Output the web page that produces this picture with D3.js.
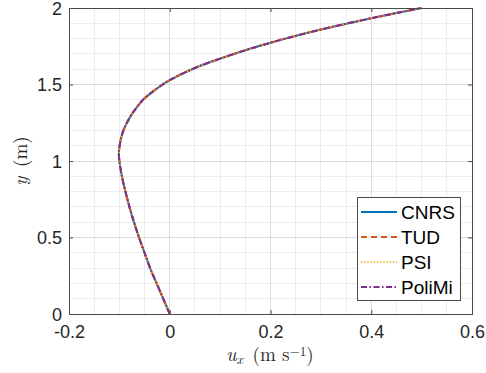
<!DOCTYPE html>
<html><head><meta charset="utf-8">
<script src="https://cdn.jsdelivr.net/npm/d3@7"></script>
<style>
html,body{margin:0;padding:0;background:#fff;}
svg{display:block;}
</style></head>
<body><svg id="c" width="486" height="373"></svg>
<script>
// Data
const yVals   = [0, 0.1, 0.2, 0.3, 0.4, 0.5, 0.6, 0.7, 0.8, 0.9, 1.0, 1.05, 1.1, 1.15, 1.2, 1.25, 1.3, 1.35, 1.4, 1.45, 1.5, 1.529, 1.608, 1.669, 1.724, 1.773, 1.818, 1.859, 1.897, 1.933, 1.967, 2.0];
const uCNRS   = [0, -0.013, -0.026, -0.039, -0.050, -0.061, -0.071, -0.080, -0.088, -0.095, -0.100, -0.101, -0.0995, -0.0965, -0.092, -0.085, -0.0765, -0.0655, -0.053, -0.035, -0.014, 0.0, 0.05, 0.10, 0.15, 0.20, 0.25, 0.30, 0.35, 0.40, 0.45, 0.50];
const uTUD    = uCNRS.slice();
const uPSI    = uCNRS.slice();
const uPoliMi = uCNRS.slice();
const seriesNames = ["CNRS", "TUD", "PSI", "PoliMi"];
const xTicks = [-0.2, 0, 0.2, 0.4, 0.6];
const yTicks = [0, 0.5, 1, 1.5, 2];
const xTickLabels = ["-0.2", "0", "0.2", "0.4", "0.6"];
const yTickLabels = ["0", "0.5", "1", "1.5", "2"];

const colors = ["#0072BD", "#D95319", "#EDB120", "#7E2F8E"];
const dashes = [null, "6,4", "1.2,2", "6,2.5,1.5,2.5"];

const W = 486, H = 373;
const m = {l: 69, r: 14, t: 8, b: 59};
const svg = d3.select("#c");
const x = d3.scaleLinear().domain([-0.2, 0.6]).range([m.l, W - m.r]);
const y = d3.scaleLinear().domain([0, 2]).range([H - m.b, m.t]);

const g = svg.append("g");
// minor grid
const xMinor = d3.range(-0.2, 0.6001, 0.05);
const yMinor = d3.range(0, 2.0001, 0.1);
g.selectAll(".xm").data(xMinor).enter().append("line")
  .attr("x1", d => x(d)).attr("x2", d => x(d)).attr("y1", m.t).attr("y2", H - m.b)
  .attr("stroke", "#ececec").attr("stroke-width", 1).attr("shape-rendering", "crispEdges");
g.selectAll(".ym").data(yMinor).enter().append("line")
  .attr("y1", d => y(d)).attr("y2", d => y(d)).attr("x1", m.l).attr("x2", W - m.r)
  .attr("stroke", "#ececec").attr("stroke-width", 1).attr("shape-rendering", "crispEdges");
// major grid
g.selectAll(".xg").data(xTicks).enter().append("line")
  .attr("x1", d => x(d)).attr("x2", d => x(d)).attr("y1", m.t).attr("y2", H - m.b)
  .attr("stroke", "#dcdcdc").attr("stroke-width", 1).attr("shape-rendering", "crispEdges");
g.selectAll(".yg").data(yTicks).enter().append("line")
  .attr("y1", d => y(d)).attr("y2", d => y(d)).attr("x1", m.l).attr("x2", W - m.r)
  .attr("stroke", "#dcdcdc").attr("stroke-width", 1).attr("shape-rendering", "crispEdges");

// axes
const tickFont = "18px 'Liberation Sans', Arial, Helvetica, sans-serif";
const legFont = "19px 'Liberation Sans', Arial, Helvetica, sans-serif";
const ax = svg.append("g").attr("transform", `translate(0,${H - m.b})`)
  .call(d3.axisBottom(x).tickValues(xTicks).tickFormat((d, i) => xTickLabels[i]).tickSizeInner(-4).tickSizeOuter(0).tickPadding(11));
const ay = svg.append("g").attr("transform", `translate(${m.l},0)`)
  .call(d3.axisLeft(y).tickValues(yTicks).tickFormat((d, i) => yTickLabels[i]).tickSizeInner(-4).tickSizeOuter(0).tickPadding(7));
const axTop = svg.append("g").attr("transform", `translate(0,${m.t})`)
  .call(d3.axisTop(x).tickValues(xTicks).tickFormat("").tickSizeInner(-4).tickSizeOuter(0));
const ayR = svg.append("g").attr("transform", `translate(${W - m.r},0)`)
  .call(d3.axisRight(y).tickValues(yTicks).tickFormat("").tickSizeInner(-4).tickSizeOuter(0));
[ax, ay, axTop, ayR].forEach(a => {
  a.select(".domain").remove();
  a.selectAll(".tick line").attr("stroke", "#4a4a4a");
  a.selectAll(".tick text").style("font", tickFont).attr("fill", "#262626");
});
ay.selectAll(".tick text").attr("dy", "0.36em");
ax.selectAll(".tick text").attr("dy", "0.71em");

// lines
const series = [uCNRS, uTUD, uPSI, uPoliMi];
const line = d3.line().x(d => x(d[0])).y(d => y(d[1])).curve(d3.curveCatmullRom);
series.forEach((s, i) => {
  svg.append("path").datum(s.map((u, k) => [u, yVals[k]]))
    .attr("d", line).attr("fill", "none").attr("stroke", colors[i])
    .attr("stroke-width", 2).attr("stroke-dasharray", dashes[i]);
});

// box
svg.append("rect").attr("x", m.l).attr("y", m.t).attr("width", W - m.l - m.r).attr("height", H - m.t - m.b)
  .attr("fill", "none").attr("stroke", "#4a4a4a").attr("stroke-width", 1).attr("shape-rendering", "crispEdges");

// legend
const lg = svg.append("g");
const lx = 357, ly = 197, lw = 103, lh = 103;
lg.append("rect").attr("x", lx).attr("y", ly).attr("width", lw).attr("height", lh)
  .attr("fill", "#fff").attr("stroke", "#4a4a4a").attr("stroke-width", 1).attr("shape-rendering", "crispEdges");
seriesNames.forEach((n, i) => {
  const cy = ly + 15 + i * 25;
  lg.append("line").attr("x1", lx + 4).attr("x2", lx + 40).attr("y1", cy).attr("y2", cy)
    .attr("stroke", colors[i]).attr("stroke-width", 2).attr("stroke-dasharray", dashes[i]);
  lg.append("text").attr("x", lx + 44).attr("y", cy).attr("dy", "0.36em")
    .style("font", legFont).attr("fill", "#000").text(n);
});

// axis labels
const serif = "'Latin Modern Roman','CMU Serif','Liberation Serif','DejaVu Serif',serif";
const xl = svg.append("text").attr("x", 270).attr("y", 361).attr("text-anchor", "middle")
  .style("font-family", serif).style("font-size", "19px").attr("fill", "#262626");
xl.append("tspan").style("font-style", "italic").text("u");
xl.append("tspan").style("font-style", "italic").style("font-size", "14px").attr("dy", 3).text("x");
xl.append("tspan").attr("dy", -3).text("\u2002(m s");
xl.append("tspan").style("font-size", "13px").attr("dy", -5).text("\u22121");
xl.append("tspan").attr("dy", 5).text(")");

const yl = svg.append("text").attr("transform", "translate(27,161) rotate(-90)").attr("text-anchor", "middle")
  .style("font-family", serif).style("font-size", "19px").attr("fill", "#262626");
yl.append("tspan").style("font-style", "italic").text("y");
yl.append("tspan").text("\u2002(m)");
</script></body></html>
